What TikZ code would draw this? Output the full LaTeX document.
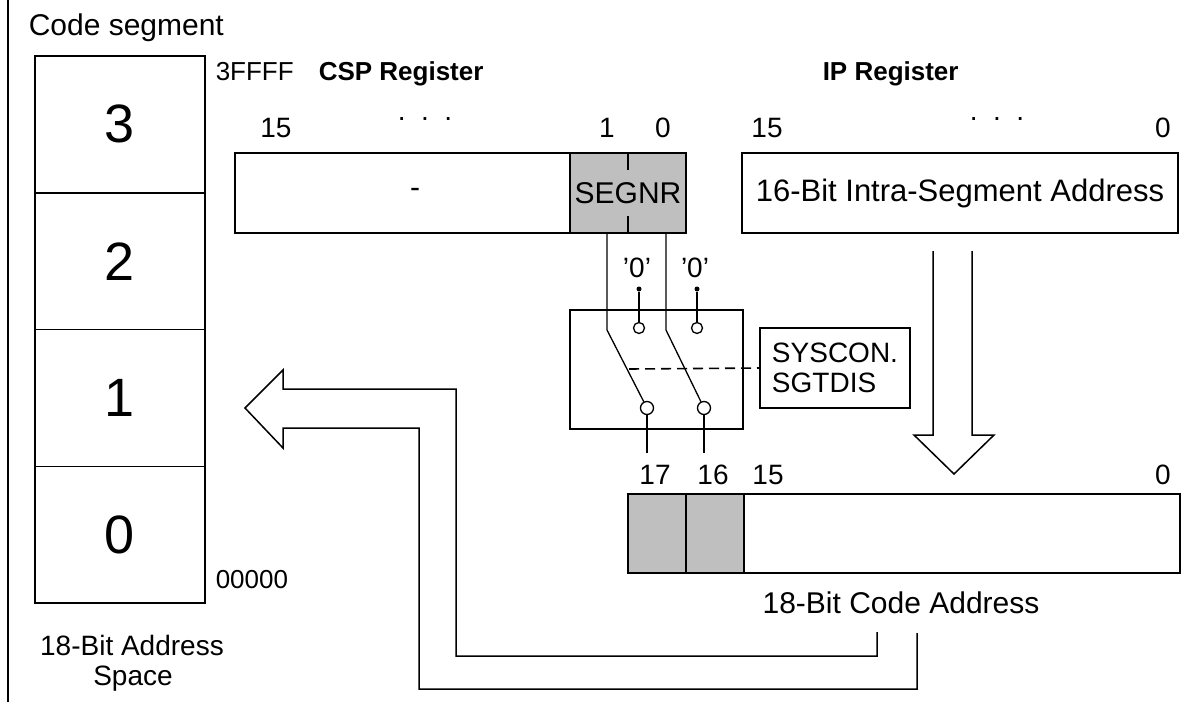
\documentclass[tikz,border=0pt]{standalone}
\usepackage{fontspec}
\setmainfont{Liberation Sans}
\usepackage{tikz}
\usetikzlibrary{positioning}

\begin{document}
\begin{tikzpicture}[
x=1pt,y=-1pt,
line width=1.5pt,
txt/.style={inner sep=0pt,font=\fontsize{28}{30}\selectfont},
wtxt/.style={inner sep=0pt,font=\fontsize{30}{32}\selectfont},
btxt/.style={inner sep=0pt,font=\fontsize{26}{28}\selectfont\bfseries},
seg/.style={draw,outer sep=0pt,inner sep=0pt,minimum width=170pt,minimum height=136.75pt,font=\fontsize{54}{56}\selectfont},
reg/.style={draw,outer sep=0pt,inner sep=0pt,minimum height=80pt,font=\fontsize{30}{32}\selectfont},
shade/.style={fill=black!25},
contact/.style={draw,circle,inner sep=0pt,minimum size=12pt,line width=1.3pt},
pin/.style={fill,circle,inner sep=0pt,minimum size=5pt},
wire/.style={line width=1.3pt}
]
\useasboundingbox (0,0) rectangle (1192,702);
\draw (8,0) -- (8,702);
\node[wtxt,anchor=base west] (title) at (28,35) {Code segment};
\node[seg] (s3) at (120,124.4) {3};
\node[seg,below=0pt of s3] (s2) {2};
\node[seg,below=0pt of s2] (s1) {1};
\node[seg,below=0pt of s1] (s0) {0};
\node[txt,anchor=base west,font=\fontsize{26}{28}\selectfont] (top) at (215,80) {3FFFF};
\node[txt,anchor=base west,font=\fontsize{26}{28}\selectfont] (bot) at (215,588) {00000};
\node[txt,anchor=base] (space1) at (132,655) {18-Bit Address};
\node[txt,anchor=base] (space2) at (133,685) {Space};

\node[btxt,anchor=base west] (csptitle) at (318,80) {CSP Register};
\node[btxt,anchor=base west] (iptitle) at (822,80) {IP Register};
\node[txt,anchor=base] (c15) at (276,137) {15};
\node[txt,anchor=base] (cdots) at (425,120) {.\ \ .\ \ .};
\node[txt,anchor=base] (c1) at (607,137) {1};
\node[txt,anchor=base] (c0) at (663,137) {0};
\node[txt,anchor=base] (i15) at (767,137) {15};
\node[txt,anchor=base] (idots) at (997,120) {.\ \ .\ \ .};
\node[txt,anchor=base] (i0) at (1163,137) {0};

\node[reg,minimum width=335pt] (cspl) at (402.5,193) {};
\node[reg,shade,minimum width=116pt,right=0pt of cspl] (segnr) {SEGNR};
\draw[wire] (segnr.north) -- ++(0,17);
\draw[wire] (segnr.south) -- ++(0,-17);
\node[wtxt] (dash) at (415,193) {-};
\node[reg,minimum width=436pt,font=\fontsize{31}{33}\selectfont] (ip) at (960,193) {16-Bit Intra-Segment Address};

\node[draw,outer sep=0pt,minimum width=173pt,minimum height=119pt] (sw) at (656.5,369.5) {};
\node[reg,minimum width=150pt,align=left,font=\fontsize{28}{30}\selectfont] (sys) at (835,368) {SYSCON.\\SGTDIS};

\node[txt,anchor=base] (z17label) at (637,277) {'0'};
\node[txt,anchor=base] (z16label) at (695,277) {'0'};
\node[pin] (z17) at (639,289) {};
\node[pin] (z16) at (697,289) {};
\node[contact,minimum size=11pt] (up17) at (639,328) {};
\node[contact,minimum size=11pt] (up16) at (697,328) {};
\node[contact,minimum size=13pt] (lo17) at (647,408) {};
\node[contact,minimum size=13pt] (lo16) at (704,408) {};
\coordinate (b17) at (607,330);
\coordinate (b16) at (666,330);
\coordinate (e17) at (647,453);
\coordinate (e16) at (704,453);
\coordinate (d) at (629,369);
\draw[wire] (b17 |- segnr.south) -- (b17) -- (lo17);
\draw[wire] (b16 |- segnr.south) -- (b16) -- (lo16);
\draw[wire] (z17) -- (up17);
\draw[wire] (z16) -- (up16);
\draw[wire] (lo17) -- (e17);
\draw[wire] (lo16) -- (e16);
\draw[line width=1.6pt,dash pattern=on 10pt off 6pt] (d) -- (sys.west);

\draw (933,251) -- (933,435) -- (914,435) -- (954,474) -- (994,435) -- (972,435) -- (972,251);

\node[txt,anchor=base] (a17) at (655,484) {17};
\node[txt,anchor=base] (a16) at (713,484) {16};
\node[txt,anchor=base] (a15) at (768,484) {15};
\node[txt,anchor=base] (a0) at (1163,484) {0};
\node[reg,shade,minimum width=58pt,minimum height=79pt] (ca17) at (657,533.5) {};
\node[reg,shade,minimum width=58pt,minimum height=79pt,right=0pt of ca17] (ca16) {};
\node[reg,minimum width=436pt,minimum height=79pt,right=0pt of ca16] (calow) {};
\node[wtxt,anchor=base] (catitle) at (901,613) {18-Bit Code Address};

\draw (877,632) -- (877,656) -- (456,656) -- (456,389) -- (283,389) -- (283,370) -- (245,408) -- (283,448) -- (283,428) -- (419,428) -- (419,689) -- (917,689) -- (917,633);
\end{tikzpicture}
\end{document}
